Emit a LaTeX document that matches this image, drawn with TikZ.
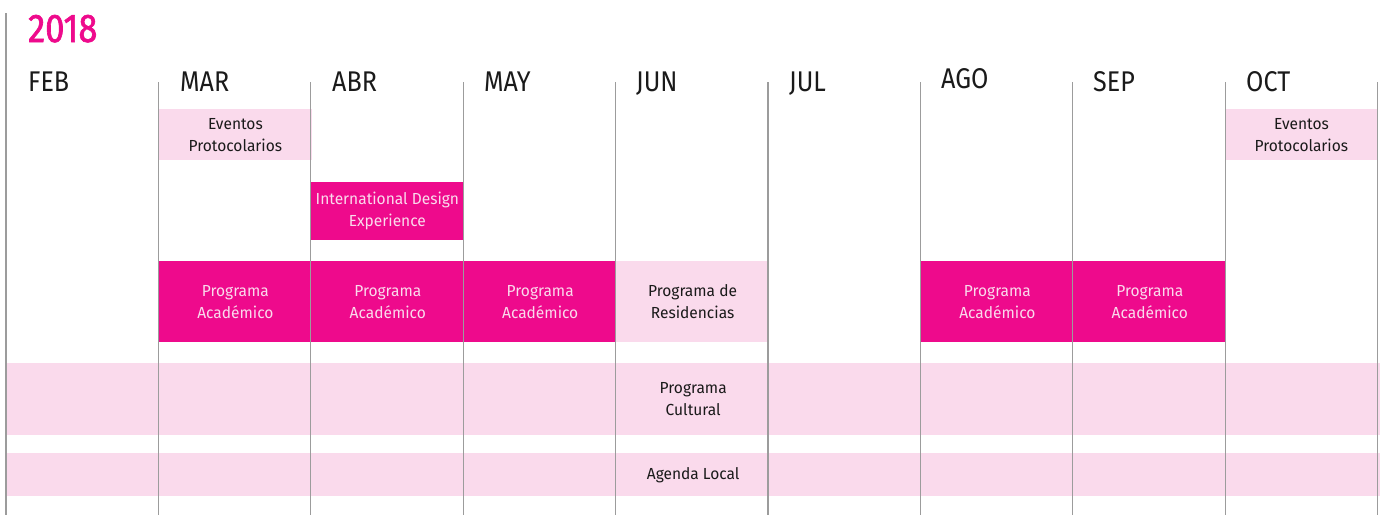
\documentclass[tikz,border=0pt]{standalone}
\usepackage{fontspec}
\setmainfont{Fira Sans}[FakeStretch=0.88]
\newfontfamily\boxfont{Fira Sans}[FakeStretch=0.97]
\newfontfamily\yearfont{Fira Sans}[FakeStretch=0.86, FakeBold=1.6]
\definecolor{magentaX}{HTML}{EE0A8C}
\definecolor{pinkL}{HTML}{FADAEC}
\definecolor{gridG}{HTML}{9C9C9C}
\definecolor{txtD}{HTML}{1A1A1A}
\tikzset{
  boxbase/.style={inner sep=0pt, align=center, anchor=north west,
    font=\boxfont\fontsize{16}{22}\selectfont},
  lightbox/.style={boxbase, fill=pinkL, text=txtD},
  darkbox/.style={boxbase, fill=magentaX, text=pinkL},
  month/.style={anchor=base west, inner sep=0pt, text=txtD,
    font=\fontsize{28.5}{30}\selectfont},
  gridline/.style={draw=gridG, line width=1.3pt},
}
\begin{document}
\begin{tikzpicture}[x=1pt,y=-1pt]
\useasboundingbox (0,0) rectangle (1380,515);
% year
\node[anchor=base west, inner sep=0pt, text=magentaX,
  font=\yearfont\fontsize{40}{42}\selectfont] (year) at (28,42) {2018};
% months
\node[month] (feb) at (28,91) {FEB};
\node[month] (mar) at (180,91) {MAR};
\node[month] (abr) at (332,91) {ABR};
\node[month] (may) at (484,91) {MAY};
\node[month] (jun) at (636,91) {JUN};
\node[month] (jul) at (789,91) {JUL};
\node[month] (ago) at (941,88) {AGO};
\node[month] (sep) at (1093,91) {SEP};
\node[month] (oct) at (1246,91) {OCT};
% boxes
\node[lightbox, minimum width=152.4, minimum height=51] (ev1) at (159,109) {Eventos\\Protocolarios};
\node[lightbox, minimum width=152.4, minimum height=51] (ev2) at (1225,109) {Eventos\\Protocolarios};
\node[darkbox, minimum width=152.4, minimum height=58] (ide) at (311,182) {International Design\\Experience};
\node[darkbox, minimum width=152.4, minimum height=81] (pa1) at (159,261) {Programa\\Académico};
\node[darkbox, minimum width=152.4, minimum height=81] (pa2) at (311.4,261) {Programa\\Académico};
\node[darkbox, minimum width=152.4, minimum height=81] (pa3) at (463.8,261) {Programa\\Académico};
\node[lightbox, minimum width=152.4, minimum height=81] (res) at (616.2,261) {Programa de\\Residencias};
\node[darkbox, minimum width=152.4, minimum height=81] (pa4) at (921,261) {Programa\\Académico};
\node[darkbox, minimum width=152.4, minimum height=81] (pa5) at (1073.4,261) {Programa\\Académico};
\node[lightbox, minimum width=1374, minimum height=72] (cult) at (6,363) {Programa\\Cultural};
\node[lightbox, minimum width=1374, minimum height=43] (agenda) at (6,453) {Agenda Local};
% grid lines
\draw[gridline] (6,13) -- (6,515);
\foreach \i in {1,...,9} {
  \draw[gridline] ({6+152.4*\i},82) -- ({6+152.4*\i},515);
}
\end{tikzpicture}
\end{document}
